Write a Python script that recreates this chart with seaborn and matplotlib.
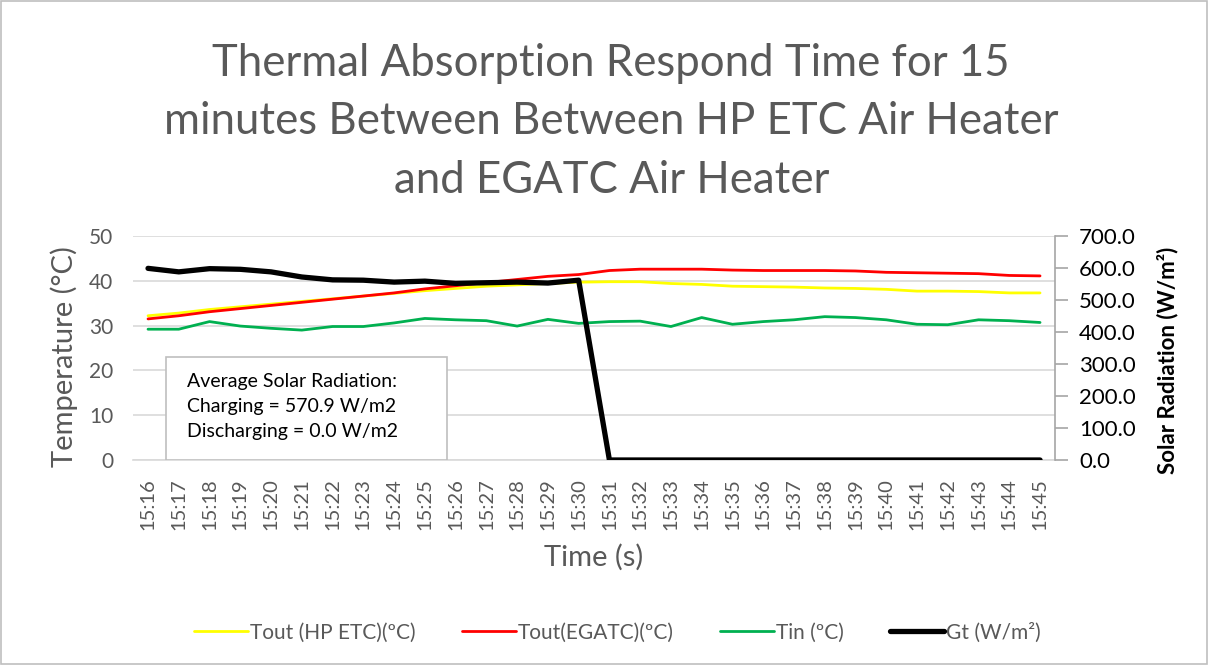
import numpy as np
import pandas as pd
import matplotlib
matplotlib.use("Agg")
import matplotlib.pyplot as plt
import seaborn as sns
from matplotlib.patches import Rectangle

times = ["15:%02d" % m for m in range(16, 46)]

tout_hp = [32.2, 32.8, 33.6, 34.2, 34.8, 35.4, 36.0, 36.6, 37.2, 37.8,
           38.3, 38.8, 39.1, 39.4, 39.7, 39.8, 39.8, 39.4, 39.2, 38.8,
           38.7, 38.6, 38.4, 38.3, 38.1, 37.7, 37.7, 37.6, 37.3, 37.3]
tout_egatc = [31.5, 32.2, 33.1, 33.8, 34.5, 35.2, 35.9, 36.6, 37.3, 38.2,
              38.9, 39.6, 40.3, 41.0, 41.4, 42.3, 42.6, 42.6, 42.6, 42.4,
              42.3, 42.3, 42.3, 42.2, 41.9, 41.8, 41.7, 41.6, 41.2, 41.1]
tin = [29.2, 29.2, 30.9, 29.9, 29.4, 29.0, 29.8, 29.8, 30.6, 31.6,
       31.3, 31.1, 29.9, 31.4, 30.5, 30.9, 31.0, 29.8, 31.8, 30.3,
       30.9, 31.3, 32.0, 31.8, 31.3, 30.3, 30.2, 31.3, 31.1, 30.7]
gt = [599, 588, 598, 596, 588, 572, 563, 562, 556, 559,
      552, 554, 556, 553, 562, 0, 0, 0, 0, 0,
      0, 0, 0, 0, 0, 0, 0, 0, 0, 0]

df = pd.DataFrame({"Time": times, "Tout_hp": tout_hp, "Tout_egatc": tout_egatc,
                   "Tin": tin, "Gt": gt})

sns.set_style("white")
plt.rcParams['font.family'] = ['Lato', 'DejaVu Sans']
gray = "#595959"

fig = plt.figure(figsize=(12.08, 6.66), dpi=100)
ax = fig.add_axes([0.1098, 0.3093, 0.7639, 0.3363])
ax2 = ax.twinx()

sns.lineplot(data=df, x="Time", y="Tout_hp", ax=ax, color="#FFFF00", linewidth=2.0,
             label="Tout (HP ETC)(ºC)", legend=False)
sns.lineplot(data=df, x="Time", y="Tout_egatc", ax=ax, color="#FF0000", linewidth=2.0,
             label="Tout(EGATC)(ºC)", legend=False)
sns.lineplot(data=df, x="Time", y="Tin", ax=ax, color="#00B050", linewidth=2.0,
             label="Tin (ºC)", legend=False)
sns.lineplot(data=df, x="Time", y="Gt", ax=ax2, color="black", linewidth=3.8,
             label="Gt (W/m²)", legend=False)

ax.set_xlim(-0.5, len(times) - 0.5)
ax.set_ylim(0, 50)
ax.set_yticks(range(0, 51, 10))
ax2.set_ylim(0, 700)
ax2.set_yticks(range(0, 701, 100))
ax2.set_yticklabels(["%.1f" % v for v in range(0, 701, 100)])

ax.yaxis.grid(True, color="#D9D9D9", linewidth=1.2)
ax.set_axisbelow(True)

for a in (ax, ax2):
    for s in ("top", "left"):
        a.spines[s].set_visible(False)
ax.spines["right"].set_visible(False)
ax2.spines["bottom"].set_visible(False)
ax.spines["bottom"].set_color("#D9D9D9")
ax.spines["bottom"].set_linewidth(1.2)
ax2.spines["right"].set_color("#A6A6A6")
ax2.spines["right"].set_linewidth(1.2)

ax.set_xticks(range(len(times)))
ax.set_xticklabels(times, rotation=90, color=gray, fontsize=14.5)
ax.set_xticks(np.arange(-0.5, len(times), 1), minor=True)
ax.tick_params(axis="x", which="major", length=0, pad=13)
ax.tick_params(axis="x", which="minor", length=8, color="#D9D9D9", width=1.2)
ax.tick_params(axis="y", length=0, labelsize=15, labelcolor=gray, pad=14)
ax2.tick_params(axis="y", length=9, color="#A6A6A6", width=1.2, labelsize=16,
                labelcolor="black", pad=8)

ax.set_xlabel("Time (s)", fontsize=21, color=gray, labelpad=10)
ax.set_ylabel("Temperature (°C)", fontsize=21, color=gray)
ax.yaxis.set_label_coords(-0.059, 0.464)
ax2.set_ylabel("Solar Radiation (W/m²)", fontsize=16, fontweight="bold", color="black")
ax2.yaxis.set_label_coords(1.110, 0.446)

# text box with averages
ax.add_patch(Rectangle((0.0362, 0.0), 0.3045, 0.46, transform=ax.transAxes,
                       facecolor="white", edgecolor="#BFBFBF", linewidth=1.2, zorder=10))
box_lines = ["Average Solar Radiation:", "Charging = 570.9 W/m2", "Discharging = 0.0 W/m2"]
for i, line in enumerate(box_lines):
    ax.text(0.0589, 0.35 - i * 0.112, line, transform=ax.transAxes, fontsize=14,
            color="black", va="center", ha="left", zorder=11)

fig.text(0.506, 0.935, "Thermal Absorption Respond Time for 15\nminutes Between Between HP ETC Air Heater\nand EGATC Air Heater",
         ha="center", va="top", fontsize=31.5, color=gray, linespacing=1.52)

h1, l1 = ax.get_legend_handles_labels()
h2, l2 = ax2.get_legend_handles_labels()
fig.legend(h1 + h2, l1 + l2, loc="center", bbox_to_anchor=(0.511, 0.05), ncol=4,
           frameon=False, fontsize=15, labelcolor=gray, handlelength=2.6,
           columnspacing=2.2, handletextpad=0.1)

fig.patches.append(Rectangle((0.001, 0.003), 0.998, 0.995, transform=fig.transFigure,
                             fill=False, edgecolor="#BFBFBF", linewidth=1.2))

plt.savefig("out.png", dpi=100)
